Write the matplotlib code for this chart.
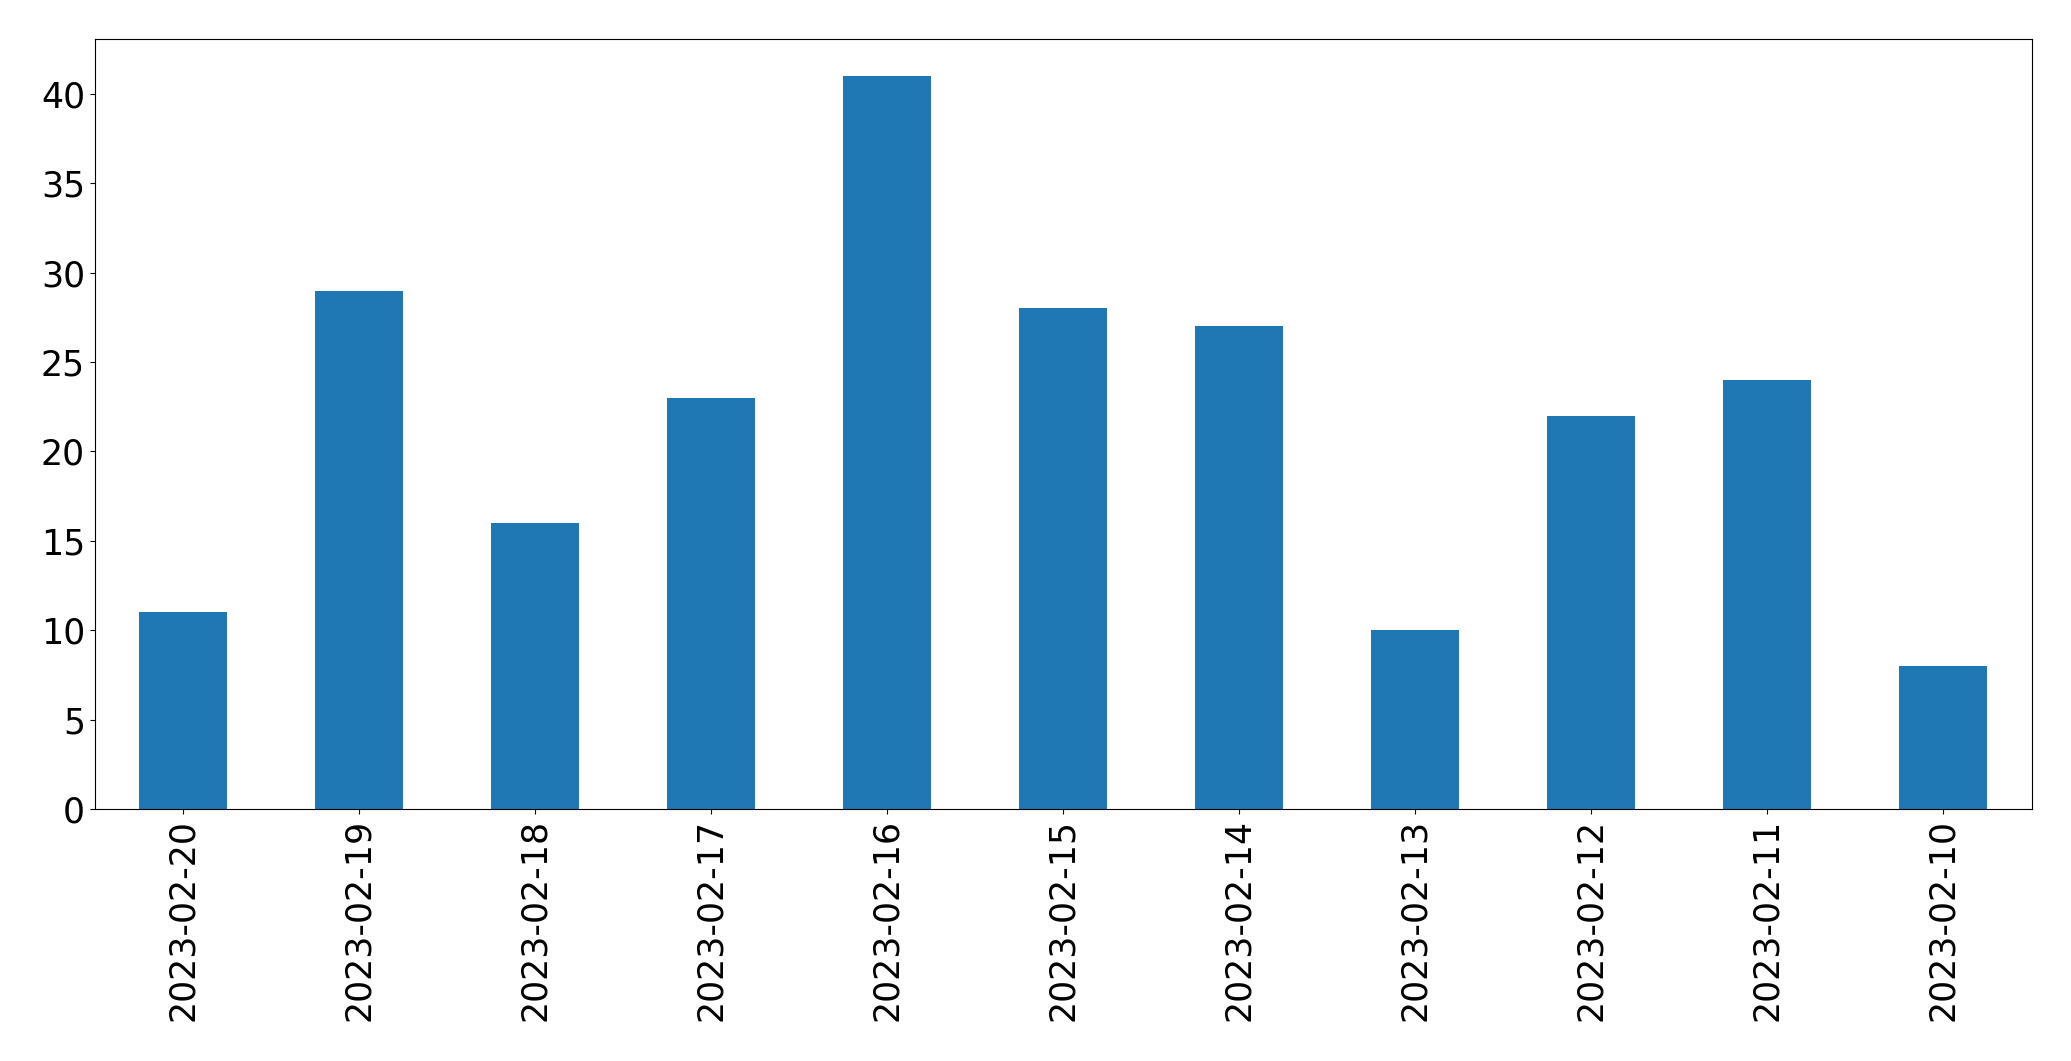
"""Daily counts as a pandas-style bar chart."""
import matplotlib
matplotlib.use("Agg")
import matplotlib.pyplot as plt
import pandas as pd

# Data
dates = ['2023-02-20', '2023-02-19', '2023-02-18', '2023-02-17',
         '2023-02-16', '2023-02-15', '2023-02-14', '2023-02-13',
         '2023-02-12', '2023-02-11', '2023-02-10']
counts = [11, 29, 16, 23, 41, 28, 27, 10, 22, 24, 8]

series = pd.Series(counts, index=dates)

fig = plt.figure(figsize=(20.71, 10.61), dpi=100)
ax = fig.add_axes([94.7 / 2071, 1 - 809 / 1061,
                   (2031.5 - 94.7) / 2071, (809 - 39.3) / 1061])

series.plot.bar(ax=ax, color='#1f77b4', width=0.5)
ax.tick_params(axis='both', labelsize=25)

fig.savefig('out.png', dpi=100)
plt.close(fig)
